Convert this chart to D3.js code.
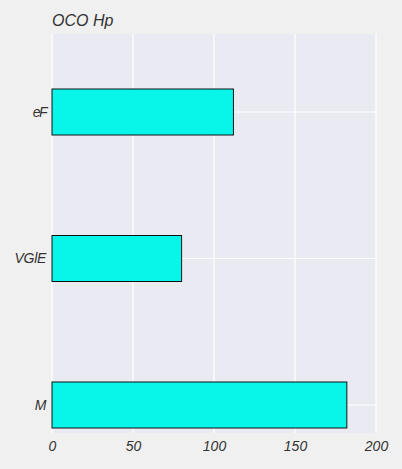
<!DOCTYPE html>
<html>
<head>
<meta charset="utf-8">
<script src="https://cdn.jsdelivr.net/npm/d3@7"></script>
<style>
  body { margin: 0; background: #f0f0f0; }
  svg { display: block; font-family: "Liberation Sans", Arial, sans-serif; font-style: italic; }
</style>
</head>
<body>
<svg id="chart" width="402" height="469"></svg>
<script>
const categories = ['eF', 'VGlE', 'M']
const values = [112, 80, 182]
const xTicks = [0, 50, 100, 150, 200]
const title = 'OCO Hp'

const svg = d3.select('#chart')
const plot = {left: 52, right: 376, top: 34, bottom: 433}

const x = d3.scaleLinear().domain([0, 200]).range([plot.left, plot.right])
// category centres sit a little off the plot's middle, like the original
const y = d3.scalePoint().domain(categories).range([112, 405])
const barH = 46

svg.append('rect')
    .attr('x', plot.left).attr('y', plot.top)
    .attr('width', plot.right - plot.left).attr('height', plot.bottom - plot.top)
    .attr('fill', '#eaeaf2')

// grid
svg.append('g').selectAll('line.v')
    .data(xTicks)
    .enter().append('line')
    .attr('x1', d => x(d)).attr('x2', d => x(d))
    .attr('y1', plot.top).attr('y2', plot.bottom)
    .attr('stroke', '#fff').attr('stroke-width', 1.2)

svg.append('g').selectAll('line.h')
    .data(categories)
    .enter().append('line')
    .attr('x1', plot.left).attr('x2', plot.right)
    .attr('y1', d => y(d)).attr('y2', d => y(d))
    .attr('stroke', '#fff').attr('stroke-width', 1.2)

// bars
svg.append('g').selectAll('rect')
    .data(categories)
    .enter().append('rect')
    .attr('x', x(0))
    .attr('y', d => y(d) - barH / 2)
    .attr('width', (d, i) => x(values[i]) - x(0))
    .attr('height', barH)
    .attr('fill', '#08f6ea')
    .attr('stroke', '#111')
    .attr('stroke-width', 1)

// x axis labels
const xAxis = svg.append('g')
    .attr('transform', `translate(0,${plot.bottom})`)
    .call(d3.axisBottom(x).tickValues(xTicks).tickSize(0).tickPadding(8))
xAxis.select('.domain').remove()
xAxis.selectAll('text')
    .attr('fill', '#333').style('font-size', '14px')
    .style('font-family', '"Liberation Sans", Arial, sans-serif')

// y axis labels
const yAxis = svg.append('g')
    .attr('transform', `translate(${plot.left},0)`)
    .call(d3.axisLeft(y).tickSize(0).tickPadding(6))
yAxis.select('.domain').remove()
yAxis.selectAll('text')
    .attr('fill', '#333').style('font-size', '14px')
    .style('font-family', '"Liberation Sans", Arial, sans-serif')
    .style('letter-spacing', d => d === 'eF' ? '-1.5px' : '-0.3px')

svg.append('text')
    .attr('x', plot.left).attr('y', 26)
    .attr('fill', '#333')
    .style('font-size', '16px')
    .text(title)
</script>
</body>
</html>
